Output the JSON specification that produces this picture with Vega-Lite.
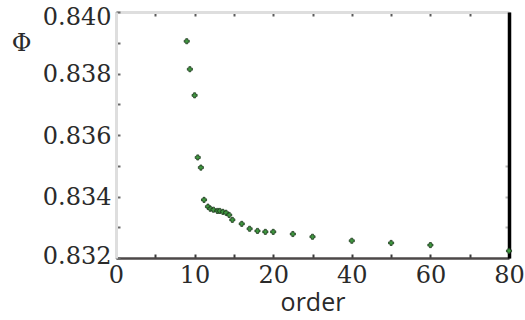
{
  "$schema": "https://vega.github.io/schema/vega-lite/v6.json",
  "width": 393,
  "height": 246,
  "autosize": {"type": "none"},
  "padding": {"left": 116, "top": 12, "right": 16, "bottom": 62},
  "background": "white",
  "config": {"view": {"stroke": null}},
  "data": {"values": [
    {"order": 9, "phi": 0.83905},
    {"order": 9.4, "phi": 0.83814},
    {"order": 10, "phi": 0.83729},
    {"order": 10.4, "phi": 0.83527},
    {"order": 10.8, "phi": 0.83494},
    {"order": 11.2, "phi": 0.83389},
    {"order": 11.7, "phi": 0.83367},
    {"order": 12, "phi": 0.8336},
    {"order": 12.4, "phi": 0.83357},
    {"order": 12.9, "phi": 0.83353},
    {"order": 13.2, "phi": 0.83353},
    {"order": 13.6, "phi": 0.8335},
    {"order": 14, "phi": 0.83347},
    {"order": 14.4, "phi": 0.8334},
    {"order": 14.8, "phi": 0.83324},
    {"order": 16, "phi": 0.83311},
    {"order": 17, "phi": 0.83295},
    {"order": 18, "phi": 0.83288},
    {"order": 19, "phi": 0.83285},
    {"order": 20, "phi": 0.83285},
    {"order": 25, "phi": 0.83278},
    {"order": 30, "phi": 0.83269},
    {"order": 40, "phi": 0.83256},
    {"order": 50, "phi": 0.83249},
    {"order": 60, "phi": 0.83242},
    {"order": 80, "phi": 0.83223}
  ]},
  "layer": [
    {
      "mark": {"type": "point", "shape": "cross", "filled": true, "size": 26, "fill": "#3f9a3f", "stroke": "#1f3a1f", "strokeWidth": 0.8, "opacity": 1},
      "encoding": {
        "x": {
          "field": "order", "type": "quantitative",
          "scale": {"domain": [0, 10, 20, 80], "range": [0, 78.6, 157.2, 393], "nice": false, "zero": false},
          "axis": {
            "orient": "bottom",
            "values": [0, 5, 10, 15, 20, 30, 40, 50, 60, 70, 80],
            "labelExpr": "indexof([0,10,20,40,60,80], datum.value) >= 0 ? datum.label : ''",
            "grid": false,
            "domainColor": "#4d4848", "domainWidth": 2.5,
            "tickColor": "#3a3a3a", "tickWidth": 2, "tickSize": -4,
            "labelFont": "DejaVu Serif", "labelFontSize": 24, "labelColor": "#2a2a2a",
            "labelPadding": 9, "labelFlush": false,
            "title": "order", "titleFont": "Open Sans", "titleFontSize": 25, "titleFontWeight": "normal", "titleColor": "#2a2a2a",
            "titlePadding": 3
          }
        },
        "y": {
          "field": "phi", "type": "quantitative",
          "scale": {"domain": [0.832, 0.840], "nice": false, "zero": false},
          "axis": {
            "orient": "left",
            "values": [0.832, 0.833, 0.834, 0.835, 0.836, 0.837, 0.838, 0.839, 0.840],
            "labelExpr": "round(datum.value*1000) % 2 == 0 ? format(datum.value, '.3f') : ''",
            "grid": false,
            "domainColor": "#dedede", "domainWidth": 3,
            "tickColor": "#6a6a6a", "tickWidth": 2, "tickSize": -4,
            "labelFont": "DejaVu Serif", "labelFontSize": 24, "labelColor": "#2a2a2a",
            "labelPadding": 9, "labelFlush": false,
            "labelOffset": {"condition": [{"test": "datum.value > 0.8395", "value": 5}, {"test": "datum.value < 0.8325", "value": -2}], "value": 1},
            "title": "Φ", "titleFont": "DejaVu Serif", "titleFontSize": 24, "titleFontWeight": "normal", "titleColor": "#2a2a2a",
            "titleAngle": 0, "titleX": -95, "titleY": 31, "titleAlign": "center", "titleBaseline": "middle"
          }
        }
      }
    },
    {
      "mark": {"type": "point", "opacity": 0},
      "encoding": {
        "x": {
          "field": "order", "type": "quantitative",
          "axis": {
            "orient": "top",
            "values": [0, 5, 10, 15, 20, 30, 40, 50, 60, 70, 80],
            "labels": false, "grid": false, "title": null,
            "domainColor": "#dedede", "domainWidth": 3,
            "tickColor": "#5a5a5a", "tickWidth": 2, "tickSize": -4
          }
        },
        "y": {
          "field": "phi", "type": "quantitative",
          "axis": {
            "orient": "right",
            "values": [0.833, 0.834, 0.835],
            "labels": false, "grid": false, "title": null,
            "domainColor": "#000000", "domainWidth": 3.5,
            "tickColor": "#bbbbbb", "tickWidth": 2, "tickSize": -4
          }
        }
      }
    }
  ],
  "resolve": {"axis": {"x": "independent", "y": "independent"}}
}
